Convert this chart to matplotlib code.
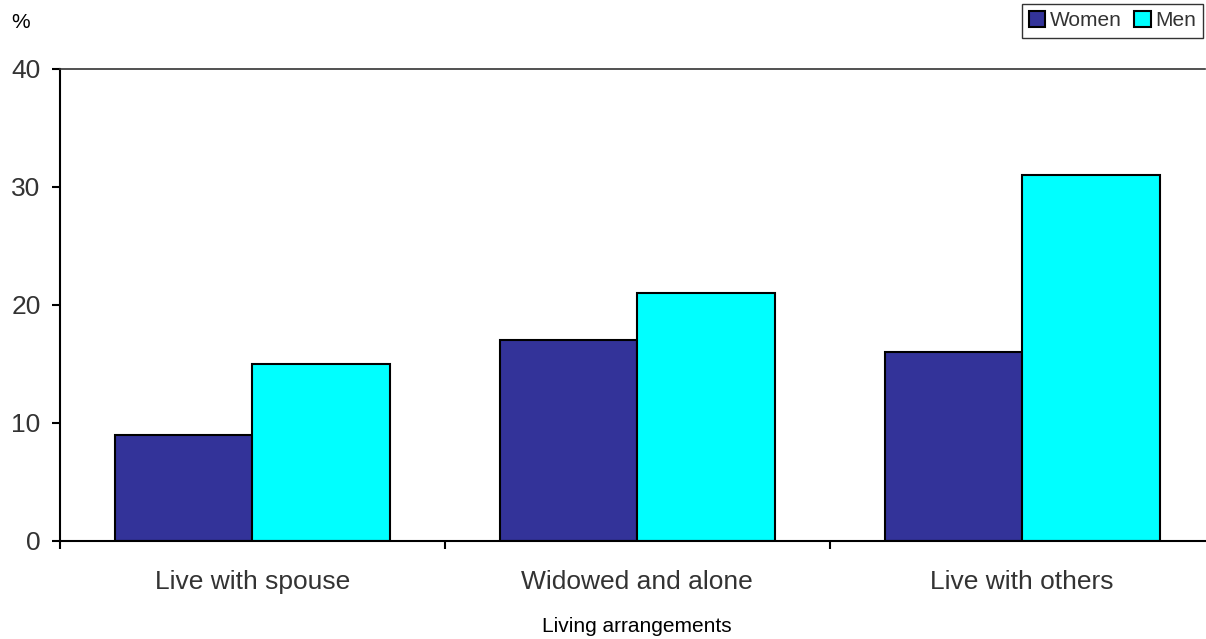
import numpy as np
import matplotlib.pyplot as plt

plt.rcParams['font.family'] = ['Liberation Sans', 'DejaVu Sans']

categories = ['Live with spouse', 'Widowed and alone', 'Live with others']
women = [9, 17, 16]
men = [15, 21, 31]
series_names = ['Women', 'Men']
yticks = [0, 10, 20, 30, 40]

text_col = '#333333'

fig = plt.figure(figsize=(12.06, 6.39), dpi=100)
ax = fig.add_axes([60 / 1206, 98 / 639, 1145 / 1206, 472 / 639])

x = np.arange(len(categories))
w = 0.357
ax.bar(x - w / 2, women, w, color='#333399', edgecolor='black', linewidth=1.5, label=series_names[0])
ax.bar(x + w / 2, men, w, color='#00ffff', edgecolor='black', linewidth=1.5, label=series_names[1])

ax.set_xlim(-0.5, 2.475)
ax.set_ylim(0, 40)
ax.set_yticks(yticks)
ax.set_xticks(x)
ax.set_xticklabels(categories, fontsize=19, color=text_col)
ax.set_xticks([-0.5, 0.5, 1.5], minor=True)
ax.tick_params(axis='x', which='major', length=0, pad=21)
ax.tick_params(axis='x', which='minor', direction='out', length=6, width=1.5)
ax.tick_params(axis='y', direction='out', length=6, width=1.5, labelsize=19, labelcolor=text_col, pad=8)

for s in ['left', 'bottom']:
    ax.spines[s].set_linewidth(1.5)
ax.spines['top'].set_linewidth(1.2)
ax.spines['top'].set_color('#333333')
ax.spines['right'].set_visible(False)

# axis title and unit label sit in figure coordinates
fig.text(637 / 1206, 1 - 626 / 639, 'Living arrangements', fontsize=15, color='black',
         ha='center', va='center')
fig.text(11 / 1206, 1 - 22 / 639, '%', fontsize=15, color='black', va='center')

leg = ax.legend(loc='upper right', bbox_to_anchor=(1203 / 1206, 1 - 4 / 639),
                bbox_transform=fig.transFigure, ncol=2, fontsize=15, frameon=True,
                fancybox=False, edgecolor='black', handlelength=0.8, handleheight=0.8,
                handletextpad=0.2, columnspacing=0.6, borderpad=0.35, borderaxespad=0)
leg.get_frame().set_linewidth(1.0)
for t in leg.get_texts():
    t.set_color(text_col)

fig.savefig('out.png', dpi=100)
